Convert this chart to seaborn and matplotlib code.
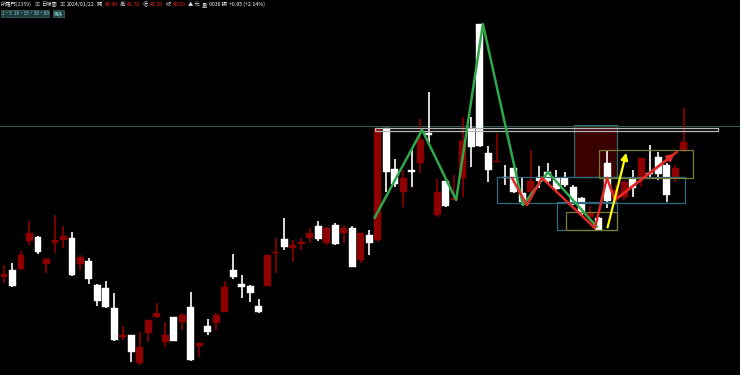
import numpy as np
import pandas as pd
import matplotlib
matplotlib.use("Agg")
import matplotlib.pyplot as plt
from matplotlib.patches import Rectangle, FancyArrowPatch
import seaborn as sns

# ---------------- data (daily candles, 所羅門 2359) ----------------
opens = [36.43, 36.65, 36.68, 37.56, 37.68, 36.84, 37.50, 37.59, 37.65, 36.84,
         36.93, 36.18, 36.09, 35.46, 34.56, 34.62, 33.75, 34.68, 35.18, 34.40,
         35.18, 35.03, 35.50, 34.28, 34.90, 35.00, 35.34, 36.65, 36.21, 36.15,
         35.53, 36.15, 37.18, 37.62, 37.34, 37.46, 37.65, 38.03, 37.50, 38.06,
         37.81, 37.96, 36.96, 37.75, 37.59, 41.09, 39.81, 39.09, 39.78, 40.00,
         40.93, 38.37, 39.43, 38.84, 39.53, 41.09, 44.34, 40.31, 40.03, 39.56,
         39.84, 39.06, 39.09, 39.56, 39.71, 39.53, 39.53, 39.25, 38.90, 38.31,
         38.28, 40.00, 38.90, 38.93, 39.50, 39.53, 39.68, 40.18, 39.93, 39.53,
         40.40]
highs = [36.81, 36.87, 37.25, 38.18, 37.72, 37.02, 38.37, 38.03, 37.84, 37.12,
         37.03, 36.20, 36.31, 35.93, 34.90, 34.62, 34.71, 35.10, 35.62, 35.03,
         35.18, 35.31, 35.96, 34.37, 35.12, 35.31, 36.31, 37.15, 36.50, 36.18,
         35.75, 37.12, 37.65, 38.28, 37.59, 37.65, 37.96, 38.18, 38.00, 38.12,
         38.06, 38.03, 37.81, 37.90, 41.09, 41.09, 40.12, 39.78, 40.40, 41.37,
         42.21, 39.50, 39.43, 39.62, 41.43, 41.43, 44.34, 40.53, 40.93, 39.93,
         39.84, 39.53, 40.40, 39.90, 40.00, 39.78, 39.71, 39.31, 38.93, 38.65,
         38.31, 40.40, 39.31, 39.46, 39.78, 40.15, 40.56, 40.34, 40.00, 39.93,
         41.70]
lows = [36.25, 36.12, 36.65, 37.43, 37.15, 36.56, 37.18, 37.34, 36.47, 36.65,
        36.22, 35.53, 35.46, 34.43, 34.46, 33.78, 33.68, 34.40, 35.15, 34.25,
        34.43, 34.78, 33.81, 33.93, 34.62, 34.78, 35.34, 36.37, 35.78, 35.65,
        35.31, 36.15, 36.56, 37.28, 36.90, 37.28, 37.50, 37.56, 37.43, 37.43,
        37.50, 36.75, 36.87, 37.12, 37.53, 39.09, 39.25, 38.62, 39.25, 39.68,
        40.62, 38.31, 38.62, 38.84, 38.93, 39.87, 40.50, 39.40, 40.03, 39.31,
        39.06, 38.68, 38.99, 39.21, 39.37, 39.15, 39.25, 38.68, 38.34, 38.28,
        37.87, 38.59, 38.68, 38.84, 38.93, 39.25, 39.56, 39.46, 38.78, 39.40,
        40.35]
closes = [36.53, 36.15, 37.12, 37.81, 37.22, 37.00, 37.59, 37.72, 36.50, 37.06,
          36.37, 35.68, 35.50, 34.46, 34.62, 34.09, 34.25, 35.09, 35.31, 34.62,
          34.43, 35.25, 33.84, 34.37, 34.72, 35.25, 36.12, 36.43, 36.12, 35.93,
          35.34, 37.12, 37.21, 37.37, 37.43, 37.53, 37.81, 37.62, 37.96, 37.46,
          37.96, 36.75, 37.81, 37.50, 41.09, 39.71, 39.34, 39.53, 39.71, 40.71,
          40.87, 39.09, 38.65, 38.90, 40.68, 40.50, 40.53, 39.78, 40.06, 39.53,
          39.09, 38.78, 39.43, 39.43, 39.43, 39.18, 39.31, 38.71, 38.43, 38.43,
          37.90, 38.81, 39.15, 39.40, 39.21, 40.15, 39.65, 39.65, 39.00, 39.84,
          40.65]

# drawn pattern lines (candle index, price)
green_idx = [43.6, 49.2, 53.2, 56.35, 61.06, 64.0, 69.76]
green_px = [38.28, 41.03, 38.84, 44.34, 38.68, 39.71, 38.00]
red_idx = [59.76, 61.53, 63.3, 69.53, 70.94, 71.88]
red_px = [39.53, 38.68, 39.53, 37.96, 39.53, 38.84]
red_arrow_end = (79.18, 40.34)
yellow_start = (70.94, 37.90)
yellow_end = (73.3, 40.40)

# rectangles: (x0, x1, p_low, p_high)
teal_boxes = [(58.0, 80.1, 38.75, 39.56), (65.06, 72.1, 37.90, 38.78)]
olive_boxes = [(66.1, 72.1, 37.90, 38.46), (70.0, 81.06, 39.53, 40.40)]
red_zone = (67.06, 72.1, 39.56, 41.18)
gray_band = (43.6, 84.0, 40.99, 41.09)
ref_line = 41.15

# header texts
header_parts = ["所羅門(2359)", "▣", "日線圖", "▣", "2024/01/22", "開", "40.40",
                "高", "41.70", "低", "40.35", "收", "40.65", "▲ 元", "量", "9030 張",
                "+0.85 (+2.14%)"]
header_colors = ["#dddddd", "#aaaaaa", "#dddddd", "#aaaaaa", "#ffffff", "#dddddd", "#ff2020",
                 "#dddddd", "#ff2020", "#dddddd", "#ff2020", "#dddddd", "#ff2020", "#dddddd",
                 "#dddddd", "#ffffff", "#ffffff"]
sub_labels = ["1·5  18·15·30·60", "更多"]

# ---------------- style ----------------
sns.set_theme(style="dark")
plt.rcParams['font.family'] = ['Noto Sans CJK TC', 'DejaVu Sans']

RED = "#8e0000"
WHITE = "#ffffff"

fig = plt.figure(figsize=(7.4, 3.75), dpi=100, facecolor="black")
ax = fig.add_axes([0, 0, 1, 1])
ax.set_facecolor("black")

df = pd.DataFrame({"o": opens, "h": highs, "l": lows, "c": closes})
df["i"] = np.arange(len(df))
df["up"] = df["c"] >= df["o"]
df["col"] = np.where(df["up"], RED, WHITE)
df["bot"] = df[["o", "c"]].min(axis=1)
df["hgt"] = (df["o"] - df["c"]).abs().clip(lower=0.035)

rz = red_zone
ax.add_patch(Rectangle((rz[0], rz[2]), rz[1] - rz[0], rz[3] - rz[2],
                       facecolor="#3a0000", edgecolor="#2a6b6b", lw=0.9, zorder=1))
ax.axhline(ref_line, color="#2f5a55", lw=0.8, zorder=1)

ax.vlines(df["i"], df["l"], df["h"], colors=df["col"], lw=1.2, zorder=3)
ax.bar(df["i"], df["hgt"], bottom=df["bot"], width=0.82, color=df["col"],
       edgecolor=df["col"], lw=0.3, zorder=4)

for (x0, x1, p0, p1) in teal_boxes:
    ax.add_patch(Rectangle((x0, p0), x1 - x0, p1 - p0, facecolor="none",
                           edgecolor="#2f6a80", lw=0.9, zorder=5))
for (x0, x1, p0, p1) in olive_boxes:
    ax.add_patch(Rectangle((x0, p0), x1 - x0, p1 - p0, facecolor="none",
                           edgecolor="#7a7a30", lw=0.9, zorder=5))
gb = gray_band
ax.add_patch(Rectangle((gb[0], gb[2]), gb[1] - gb[0], gb[3] - gb[2], facecolor="none",
                       edgecolor="#b8b8b8", lw=0.9, zorder=5))

sns.lineplot(x=green_idx, y=green_px, ax=ax, color="#2ea84a", lw=1.8, zorder=6,
             sort=False, estimator=None)
sns.lineplot(x=red_idx + [red_arrow_end[0]], y=red_px + [red_arrow_end[1]], ax=ax,
             color="#e02828", lw=1.8, zorder=7, sort=False, estimator=None)
ax.add_patch(FancyArrowPatch((red_idx[-1], red_px[-1]), red_arrow_end, arrowstyle="-|>",
                             mutation_scale=10, color="#e02828", lw=1.8, zorder=7))
ax.add_patch(FancyArrowPatch(yellow_start, yellow_end, arrowstyle="-|>",
                             mutation_scale=10, color="#ffff00", lw=1.6, zorder=7))

ax.set_xlim(-0.47, 86.6)
ax.set_ylim(33.37, 45.09)
ax.set_xticks([])
ax.set_yticks([])
for s in ax.spines.values():
    s.set_visible(False)
ax.grid(False)
if ax.get_legend():
    ax.get_legend().remove()

# header: place pieces sequentially using measured widths
renderer = fig.canvas.get_renderer()
xp = 1.0
for t, c in zip(header_parts, header_colors):
    txt = fig.text(xp / 740, 1 - 4.5 / 375, t, color=c, fontsize=3.8, va="center",
                   ha="left")
    bb = txt.get_window_extent(renderer=renderer)
    xp += bb.width + 2.2

xp = 1.5
for t in sub_labels:
    txt = fig.text(xp / 740, 1 - 13.5 / 375, t, color="#8fd0d0", fontsize=3.4,
                   va="center", ha="left",
                   bbox=dict(boxstyle="square,pad=0.15", fc="#1f3c3c", ec="#3a6a6a", lw=0.5))
    bb = txt.get_window_extent(renderer=renderer)
    xp += bb.width + 5

fig.savefig("out.png", dpi=100, facecolor="black")
